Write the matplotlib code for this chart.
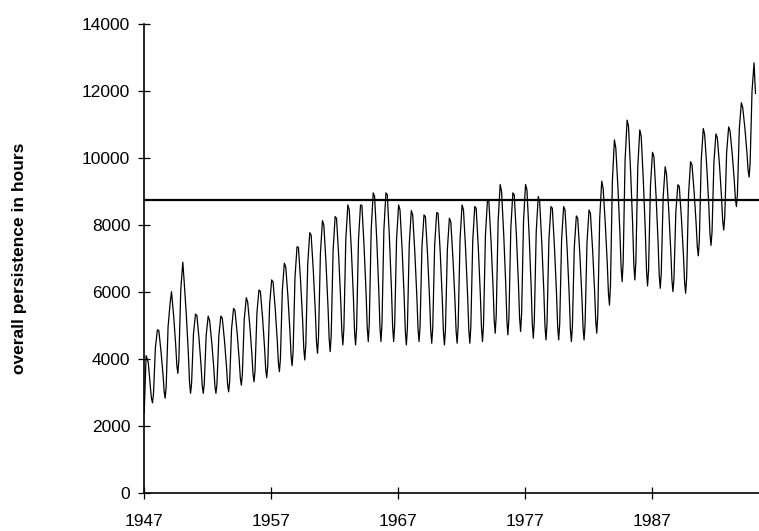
import numpy as np
import matplotlib
matplotlib.use('Agg')
import matplotlib.pyplot as plt

plt.rcParams['font.family'] = ['Liberation Sans', 'DejaVu Sans']

# values, one entry per year
years = list(range(1947, 1996))

jan_peak = [2400, 4870, 5670, 6890, 5340, 5280, 5280, 5510, 5830, 6060,
            6360, 6860, 7350, 7770, 8130, 8250, 8600, 8600, 8960, 8960,
            8600, 8430, 8300, 8370, 8200, 8600, 8550, 8750, 9210, 8960,
            9210, 8850, 8550, 8550, 8270, 8450, 9310, 10540, 11130, 10840,
            10170, 9740, 9200, 9890, 10880, 10720, 10930, 11650, 12840]

feb_value = [4100, 4850, 6010, 6300, 5300, 5150, 5220, 5450, 5700, 6020,
             6300, 6750, 7330, 7700, 8000, 8200, 8450, 8580, 8850, 8900,
             8450, 8300, 8250, 8350, 8100, 8450, 8500, 8700, 9000, 8900,
             9050, 8700, 8500, 8450, 8200, 8350, 9100, 10300, 10950, 10650,
             10050, 9500, 9150, 9800, 10700, 10600, 10800, 11500, 11930]

# 1947-1994 only
apr_value = [3900, 4240, 5280, 5300, 4600, 4500, 4560, 4780, 4990, 5250,
             5500, 5870, 6320, 6640, 6870, 7070, 7240, 7360, 7550, 7590,
             7240, 7170, 7120, 7170, 7010, 7260, 7310, 7520, 7720, 7680,
             7720, 7460, 7320, 7270, 7110, 7280, 8050, 9100, 9570, 9310,
             8870, 8450, 8190, 8980, 9710, 9780, 10130, 10880]

jun_value = [3180, 3540, 4420, 4140, 3790, 3740, 3790, 4000, 4150, 4340,
             4560, 4830, 5150, 5410, 5540, 5740, 5830, 5940, 6040, 6050,
             5830, 5840, 5790, 5800, 5740, 5860, 5910, 6150, 6220, 6250,
             6170, 6020, 5950, 5900, 5840, 6020, 6830, 7710, 7970, 7750,
             7490, 7230, 7080, 8030, 8550, 8810, 9340, 10160]

jul_value = [2830, 3030, 3810, 3310, 3210, 3190, 3240, 3440, 3560, 3700,
             3890, 4100, 4310, 4520, 4600, 4800, 4820, 4930, 4950, 4960,
             4820, 4900, 4850, 4810, 4830, 4870, 4920, 5160, 5150, 5230,
             5060, 4980, 4960, 4910, 4930, 5130, 5960, 6710, 6820, 6630,
             6500, 6360, 6280, 7350, 7720, 8130, 8780, 9640]

aug_trough = [2690, 2830, 3570, 2975, 2975, 2975, 3020, 3220, 3320, 3440,
              3620, 3800, 3970, 4170, 4220, 4420, 4420, 4520, 4520, 4520,
              4420, 4520, 4470, 4420, 4470, 4470, 4520, 4770, 4720, 4820,
              4620, 4570, 4570, 4520, 4570, 4770, 5610, 6310, 6360, 6180,
              6110, 6010, 5960, 7080, 7390, 7850, 8550, 9430]

sep_value = [2950, 3170, 3970, 3260, 3250, 3250, 3320, 3530, 3650, 3790,
             4010, 4230, 4430, 4650, 4700, 4920, 4920, 5050, 5050, 5010,
             4900, 4970, 4940, 4870, 4970, 4960, 5030, 5300, 5230, 5350,
             5130, 5050, 5050, 4970, 5040, 5320, 6200, 6890, 6900, 6660,
             6550, 6390, 6430, 7540, 7790, 8220, 8920, 9840]

nov_value = [4330, 4960, 6060, 4750, 4700, 4700, 4890, 5180, 5380, 5630,
             6050, 6460, 6820, 7140, 7240, 7560, 7560, 7850, 7850, 7580,
             7430, 7360, 7400, 7260, 7570, 7530, 7690, 8100, 7900, 8110,
             7790, 7560, 7560, 7330, 7480, 8180, 9310, 9930, 9720, 9170,
             8830, 8400, 8910, 9930, 9890, 10160, 10880, 11990]

hours_per_year = 8760

# month position inside the year for each array
month_pos = {'jan': 0.04, 'feb': 0.15, 'apr': 0.32, 'jun': 0.48,
             'jul': 0.57, 'aug': 0.65, 'sep': 0.73, 'nov': 0.88}

t = []
v = []
for i, yr in enumerate(years):
    t.append(yr if i == 0 else yr + month_pos['jan'])
    v.append(jan_peak[i])
    t.append(yr + month_pos['feb'])
    v.append(feb_value[i])
    if i < len(aug_trough):
        for key, arr in [('apr', apr_value), ('jun', jun_value), ('jul', jul_value),
                         ('aug', aug_trough), ('sep', sep_value), ('nov', nov_value)]:
            t.append(yr + month_pos[key])
            v.append(arr[i])

fig = plt.figure(figsize=(7.59, 5.31), dpi=100)
ax = fig.add_axes([0.19, 0.0716, 0.81, 0.8832])

ax.plot(t, v, color='black', linewidth=0.9)
ax.axhline(hours_per_year, color='black', linewidth=1.6)

ax.set_xlim(1947, 1995.43)
ax.set_ylim(0, 14000)
ax.set_xticks([1947, 1957, 1967, 1977, 1987])
ax.set_yticks(range(0, 14001, 2000))

ax.spines['top'].set_visible(False)
ax.spines['right'].set_visible(False)
ax.spines['left'].set_linewidth(1.2)
ax.spines['bottom'].set_linewidth(1.2)

ax.tick_params(axis='both', direction='inout', length=8, width=0.9, labelsize=12.5)
ax.tick_params(axis='x', pad=11)
ax.tick_params(axis='y', pad=6)

ax.set_ylabel('overall persistence in hours', fontsize=12.5, fontweight='bold', labelpad=40)

plt.savefig('out.png', dpi=100)
